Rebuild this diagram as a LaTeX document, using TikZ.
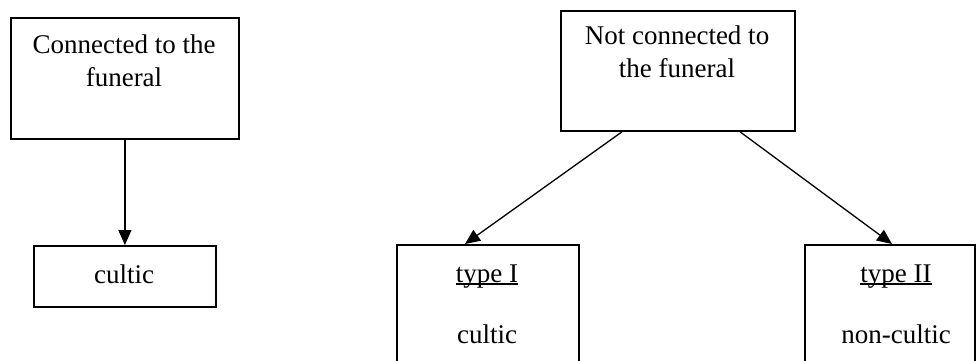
\documentclass[tikz,border=0pt]{standalone}
\usepackage{fontspec}
\setmainfont{Liberation Serif}
\usetikzlibrary{arrows.meta}
\newcommand\ulword[1]{\setbox0\hbox{#1}\rlap{\rule[-2.6pt]{\wd0}{1.4pt}}\box0}
\begin{document}
\begin{tikzpicture}[x=1pt,y=-1pt,
  box/.style={draw, line width=1.8pt, inner sep=0pt, anchor=north west},
  txt/.style={font=\fontsize{27}{32.5}\selectfont, align=center, anchor=base, inner sep=0pt},
  arr/.style={line width=1.3pt, -{Triangle[length=15pt,width=13pt]}}]
\useasboundingbox (0,0) rectangle (976,360);
\clip (0,0) rectangle (976,360);
\node[box, minimum width=228pt, minimum height=121pt] (b1) at (10,17) {};
\node[box, minimum width=182pt, minimum height=61pt] (b2) at (33,245) {};
\node[box, minimum width=234pt, minimum height=120pt] (b3) at (560,10) {};
\node[box, minimum width=182pt, minimum height=140pt] (b4) at (396,244) {};
\node[box, minimum width=170pt, minimum height=140pt] (b5) at (804,244) {};
\node[txt] (t1) at (124,86) {Connected to the\\funeral};
\node[txt] (t2) at (124,283) {cultic};
\node[txt] (t3) at (677,77) {Not connected to\\the funeral};
\node[txt] (t4a) at (487,282) {\ulword{type I}};
\node[txt] (t4b) at (487,343) {cultic};
\node[txt] (t5a) at (896,282) {\ulword{type II}};
\node[txt] (t5b) at (896,343) {non-cultic};
\draw[arr] (b1.south) -- (b2.north);
\draw[arr] ([xshift=62pt]b3.south west) -- ([xshift=69pt]b4.north west);
\draw[arr] ([xshift=180pt]b3.south west) -- ([xshift=88pt]b5.north west);
\end{tikzpicture}
\end{document}
